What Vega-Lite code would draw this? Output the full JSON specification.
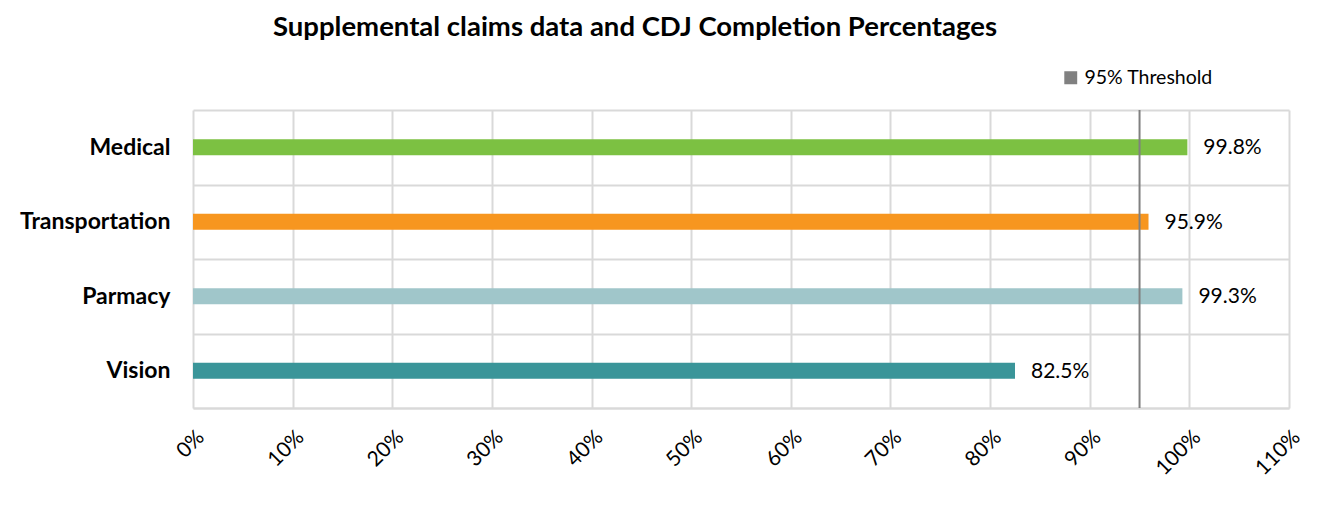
{
  "$schema": "https://vega.github.io/schema/vega-lite/v6.json",
  "autosize": "none",
  "width": 1096,
  "height": 298,
  "padding": {"left": 193, "top": 110, "right": 48, "bottom": 100},
  "background": "white",
  "config": {
    "font": "Lato",
    "view": {"stroke": null}
  },
  "title": {
    "text": "Supplemental claims data and CDJ Completion Percentages",
    "font": "Lato",
    "fontSize": 27.5,
    "fontWeight": "bold",
    "color": "#000000",
    "anchor": "middle",
    "frame": "group",
    "dx": -106,
    "offset": 27
  },
  "layer": [
    {
      "data": {
        "values": [
          {"category": "Medical", "pct": 0.998, "label": "99.8%"},
          {"category": "Transportation", "pct": 0.959, "label": "95.9%"},
          {"category": "Parmacy", "pct": 0.993, "label": "99.3%"},
          {"category": "Vision", "pct": 0.825, "label": "82.5%"}
        ]
      },
      "layer": [
        {
          "mark": {"type": "bar", "size": 16},
          "encoding": {
            "y": {
              "field": "category",
              "type": "nominal",
              "sort": ["Medical", "Transportation", "Parmacy", "Vision"],
              "scale": {"paddingInner": 0, "paddingOuter": 0},
              "axis": {
                "title": null,
                "tickBand": "extent",
                "grid": true,
                "gridColor": "#d9d9d9",
                "gridWidth": 2,
                "ticks": false,
                "domain": false,
                "labelFontSize": 23,
                "labelFontWeight": "bold",
                "labelColor": "#000000",
                "labelPadding": 23
              }
            },
            "x": {
              "field": "pct",
              "type": "quantitative",
              "scale": {"domain": [0, 1.1], "nice": false},
              "axis": {
                "title": null,
                "format": ".0%",
                "values": [0, 0.1, 0.2, 0.3, 0.4, 0.5, 0.6, 0.7, 0.8, 0.9, 1.0, 1.1],
                "grid": true,
                "gridColor": "#d9d9d9",
                "gridWidth": 2,
                "ticks": false,
                "domainColor": "#d9d9d9",
                "domainWidth": 2,
                "labelAngle": -45,
                "labelFontSize": 21,
                "labelColor": "#000000",
                "labelPadding": 18
              }
            },
            "color": {
              "field": "category",
              "type": "nominal",
              "scale": {
                "domain": ["Medical", "Transportation", "Parmacy", "Vision"],
                "range": ["#7cc142", "#f7961f", "#a0c6ca", "#3a9599"]
              },
              "legend": null
            }
          }
        },
        {
          "mark": {"type": "text", "align": "left", "baseline": "middle", "dx": 16, "dy": 1, "fontSize": 21, "color": "#000000"},
          "encoding": {
            "y": {"field": "category", "type": "nominal", "sort": ["Medical", "Transportation", "Parmacy", "Vision"]},
            "x": {"field": "pct", "type": "quantitative"},
            "text": {"field": "label"}
          }
        }
      ]
    },
    {
      "data": {"values": [{"threshold": 0.95, "series": "95% Threshold"}]},
      "mark": {"type": "rule", "strokeWidth": 2},
      "encoding": {
        "x": {"field": "threshold", "type": "quantitative"},
        "color": {
          "field": "series",
          "type": "nominal",
          "scale": {"domain": ["95% Threshold"], "range": ["#808080"]},
          "legend": {
            "title": null,
            "orient": "none",
            "legendX": 868,
            "legendY": -42,
            "symbolType": "square",
            "symbolSize": 130,
            "symbolFillColor": "#808080",
            "symbolStrokeColor": "#404040",
            "symbolStrokeWidth": 1.5,
            "labelFontSize": 19.5,
            "labelColor": "#000000",
            "labelOffset": 4
          }
        }
      }
    }
  ],
  "resolve": {"scale": {"color": "independent"}}
}
